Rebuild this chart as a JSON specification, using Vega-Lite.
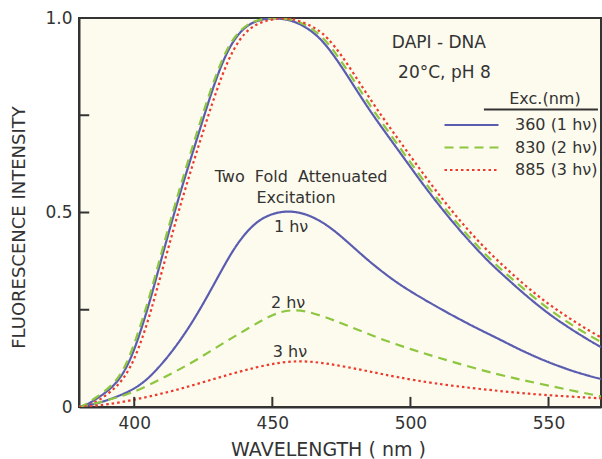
{
  "$schema": "https://vega.github.io/schema/vega-lite/v6.json",
  "width": 522,
  "height": 389,
  "autosize": {"type": "none"},
  "padding": {"left": 79, "top": 18, "right": 1, "bottom": 52},
  "background": "#ffffff",
  "config": {
    "font": "DejaVu Sans",
    "view": {"fill": "#fdfbee", "stroke": "#333333", "strokeWidth": 2},
    "axis": {
      "grid": false,
      "domainColor": "#333333",
      "domainWidth": 2,
      "ticks": false,
      "labelColor": "#333333",
      "labelFont": "DejaVu Sans",
      "titleColor": "#333333",
      "titleFont": "DejaVu Sans",
      "titleFontWeight": "normal"
    },
    "legend": {
      "orient": "none",
      "legendX": 364,
      "legendY": 97,
      "padding": 0,
      "symbolType": "stroke",
      "symbolSize": 2916,
      "symbolStrokeWidth": 2.2,
      "labelFont": "DejaVu Sans",
      "labelFontSize": 16,
      "labelColor": "#333333",
      "labelOffset": 15,
      "clipHeight": 20,
      "rowPadding": 2.5
    }
  },
  "datasets": {
    "curves": [
      {"w":380,"i":0,"e":"360 (1 hν)","s":"n"},{"w":382,"i":0.003,"e":"360 (1 hν)","s":"n"},{"w":385,"i":0.015,"e":"360 (1 hν)","s":"n"},{"w":390,"i":0.038,"e":"360 (1 hν)","s":"n"},{"w":394,"i":0.065,"e":"360 (1 hν)","s":"n"},{"w":397,"i":0.098,"e":"360 (1 hν)","s":"n"},{"w":400,"i":0.146,"e":"360 (1 hν)","s":"n"},{"w":403,"i":0.21,"e":"360 (1 hν)","s":"n"},{"w":406,"i":0.28,"e":"360 (1 hν)","s":"n"},{"w":410,"i":0.385,"e":"360 (1 hν)","s":"n"},{"w":414,"i":0.487,"e":"360 (1 hν)","s":"n"},{"w":418,"i":0.583,"e":"360 (1 hν)","s":"n"},{"w":422,"i":0.673,"e":"360 (1 hν)","s":"n"},{"w":426,"i":0.765,"e":"360 (1 hν)","s":"n"},{"w":430,"i":0.852,"e":"360 (1 hν)","s":"n"},{"w":434,"i":0.92,"e":"360 (1 hν)","s":"n"},{"w":438,"i":0.963,"e":"360 (1 hν)","s":"n"},{"w":442,"i":0.986,"e":"360 (1 hν)","s":"n"},{"w":446,"i":0.997,"e":"360 (1 hν)","s":"n"},{"w":451,"i":1.0,"e":"360 (1 hν)","s":"n"},{"w":456,"i":0.996,"e":"360 (1 hν)","s":"n"},{"w":461,"i":0.982,"e":"360 (1 hν)","s":"n"},{"w":466,"i":0.957,"e":"360 (1 hν)","s":"n"},{"w":470,"i":0.926,"e":"360 (1 hν)","s":"n"},{"w":475,"i":0.876,"e":"360 (1 hν)","s":"n"},{"w":480,"i":0.82,"e":"360 (1 hν)","s":"n"},{"w":485,"i":0.765,"e":"360 (1 hν)","s":"n"},{"w":490,"i":0.715,"e":"360 (1 hν)","s":"n"},{"w":495,"i":0.666,"e":"360 (1 hν)","s":"n"},{"w":500,"i":0.617,"e":"360 (1 hν)","s":"n"},{"w":505,"i":0.568,"e":"360 (1 hν)","s":"n"},{"w":510,"i":0.522,"e":"360 (1 hν)","s":"n"},{"w":515,"i":0.478,"e":"360 (1 hν)","s":"n"},{"w":520,"i":0.437,"e":"360 (1 hν)","s":"n"},{"w":525,"i":0.398,"e":"360 (1 hν)","s":"n"},{"w":530,"i":0.362,"e":"360 (1 hν)","s":"n"},{"w":535,"i":0.33,"e":"360 (1 hν)","s":"n"},{"w":540,"i":0.298,"e":"360 (1 hν)","s":"n"},{"w":545,"i":0.268,"e":"360 (1 hν)","s":"n"},{"w":550,"i":0.24,"e":"360 (1 hν)","s":"n"},{"w":555,"i":0.215,"e":"360 (1 hν)","s":"n"},{"w":560,"i":0.192,"e":"360 (1 hν)","s":"n"},{"w":565,"i":0.17,"e":"360 (1 hν)","s":"n"},{"w":570,"i":0.15,"e":"360 (1 hν)","s":"n"},

      {"w":380,"i":0,"e":"830 (2 hν)","s":"n"},{"w":382,"i":0.004,"e":"830 (2 hν)","s":"n"},{"w":385,"i":0.019,"e":"830 (2 hν)","s":"n"},{"w":390,"i":0.043,"e":"830 (2 hν)","s":"n"},{"w":394,"i":0.072,"e":"830 (2 hν)","s":"n"},{"w":397,"i":0.107,"e":"830 (2 hν)","s":"n"},{"w":400,"i":0.162,"e":"830 (2 hν)","s":"n"},{"w":403,"i":0.225,"e":"830 (2 hν)","s":"n"},{"w":406,"i":0.295,"e":"830 (2 hν)","s":"n"},{"w":410,"i":0.4,"e":"830 (2 hν)","s":"n"},{"w":414,"i":0.502,"e":"830 (2 hν)","s":"n"},{"w":418,"i":0.598,"e":"830 (2 hν)","s":"n"},{"w":422,"i":0.69,"e":"830 (2 hν)","s":"n"},{"w":426,"i":0.78,"e":"830 (2 hν)","s":"n"},{"w":430,"i":0.862,"e":"830 (2 hν)","s":"n"},{"w":434,"i":0.928,"e":"830 (2 hν)","s":"n"},{"w":438,"i":0.967,"e":"830 (2 hν)","s":"n"},{"w":442,"i":0.988,"e":"830 (2 hν)","s":"n"},{"w":446,"i":0.998,"e":"830 (2 hν)","s":"n"},{"w":451,"i":1.0,"e":"830 (2 hν)","s":"n"},{"w":456,"i":0.998,"e":"830 (2 hν)","s":"n"},{"w":461,"i":0.987,"e":"830 (2 hν)","s":"n"},{"w":466,"i":0.965,"e":"830 (2 hν)","s":"n"},{"w":470,"i":0.937,"e":"830 (2 hν)","s":"n"},{"w":475,"i":0.889,"e":"830 (2 hν)","s":"n"},{"w":480,"i":0.834,"e":"830 (2 hν)","s":"n"},{"w":485,"i":0.779,"e":"830 (2 hν)","s":"n"},{"w":490,"i":0.728,"e":"830 (2 hν)","s":"n"},{"w":495,"i":0.678,"e":"830 (2 hν)","s":"n"},{"w":500,"i":0.629,"e":"830 (2 hν)","s":"n"},{"w":505,"i":0.58,"e":"830 (2 hν)","s":"n"},{"w":510,"i":0.533,"e":"830 (2 hν)","s":"n"},{"w":515,"i":0.488,"e":"830 (2 hν)","s":"n"},{"w":520,"i":0.447,"e":"830 (2 hν)","s":"n"},{"w":525,"i":0.408,"e":"830 (2 hν)","s":"n"},{"w":530,"i":0.372,"e":"830 (2 hν)","s":"n"},{"w":535,"i":0.34,"e":"830 (2 hν)","s":"n"},{"w":540,"i":0.31,"e":"830 (2 hν)","s":"n"},{"w":545,"i":0.28,"e":"830 (2 hν)","s":"n"},{"w":550,"i":0.252,"e":"830 (2 hν)","s":"n"},{"w":555,"i":0.227,"e":"830 (2 hν)","s":"n"},{"w":560,"i":0.204,"e":"830 (2 hν)","s":"n"},{"w":565,"i":0.183,"e":"830 (2 hν)","s":"n"},{"w":570,"i":0.163,"e":"830 (2 hν)","s":"n"},

      {"w":380,"i":0,"e":"885 (3 hν)","s":"n"},{"w":382,"i":0.001,"e":"885 (3 hν)","s":"n"},{"w":385,"i":0.008,"e":"885 (3 hν)","s":"n"},{"w":390,"i":0.03,"e":"885 (3 hν)","s":"n"},{"w":394,"i":0.055,"e":"885 (3 hν)","s":"n"},{"w":397,"i":0.082,"e":"885 (3 hν)","s":"n"},{"w":400,"i":0.122,"e":"885 (3 hν)","s":"n"},{"w":403,"i":0.178,"e":"885 (3 hν)","s":"n"},{"w":406,"i":0.245,"e":"885 (3 hν)","s":"n"},{"w":410,"i":0.348,"e":"885 (3 hν)","s":"n"},{"w":414,"i":0.452,"e":"885 (3 hν)","s":"n"},{"w":418,"i":0.55,"e":"885 (3 hν)","s":"n"},{"w":422,"i":0.642,"e":"885 (3 hν)","s":"n"},{"w":426,"i":0.732,"e":"885 (3 hν)","s":"n"},{"w":430,"i":0.818,"e":"885 (3 hν)","s":"n"},{"w":434,"i":0.893,"e":"885 (3 hν)","s":"n"},{"w":438,"i":0.945,"e":"885 (3 hν)","s":"n"},{"w":442,"i":0.975,"e":"885 (3 hν)","s":"n"},{"w":446,"i":0.99,"e":"885 (3 hν)","s":"n"},{"w":451,"i":0.998,"e":"885 (3 hν)","s":"n"},{"w":456,"i":1.0,"e":"885 (3 hν)","s":"n"},{"w":461,"i":0.99,"e":"885 (3 hν)","s":"n"},{"w":466,"i":0.973,"e":"885 (3 hν)","s":"n"},{"w":470,"i":0.95,"e":"885 (3 hν)","s":"n"},{"w":475,"i":0.905,"e":"885 (3 hν)","s":"n"},{"w":480,"i":0.851,"e":"885 (3 hν)","s":"n"},{"w":485,"i":0.796,"e":"885 (3 hν)","s":"n"},{"w":490,"i":0.744,"e":"885 (3 hν)","s":"n"},{"w":495,"i":0.694,"e":"885 (3 hν)","s":"n"},{"w":500,"i":0.645,"e":"885 (3 hν)","s":"n"},{"w":505,"i":0.596,"e":"885 (3 hν)","s":"n"},{"w":510,"i":0.549,"e":"885 (3 hν)","s":"n"},{"w":515,"i":0.504,"e":"885 (3 hν)","s":"n"},{"w":520,"i":0.462,"e":"885 (3 hν)","s":"n"},{"w":525,"i":0.423,"e":"885 (3 hν)","s":"n"},{"w":530,"i":0.387,"e":"885 (3 hν)","s":"n"},{"w":535,"i":0.354,"e":"885 (3 hν)","s":"n"},{"w":540,"i":0.322,"e":"885 (3 hν)","s":"n"},{"w":545,"i":0.292,"e":"885 (3 hν)","s":"n"},{"w":550,"i":0.265,"e":"885 (3 hν)","s":"n"},{"w":555,"i":0.24,"e":"885 (3 hν)","s":"n"},{"w":560,"i":0.217,"e":"885 (3 hν)","s":"n"},{"w":565,"i":0.195,"e":"885 (3 hν)","s":"n"},{"w":570,"i":0.175,"e":"885 (3 hν)","s":"n"},

      {"w":380,"i":0,"e":"360 (1 hν)","s":"a"},{"w":383,"i":0.003,"e":"360 (1 hν)","s":"a"},{"w":388,"i":0.012,"e":"360 (1 hν)","s":"a"},{"w":394,"i":0.027,"e":"360 (1 hν)","s":"a"},{"w":400,"i":0.046,"e":"360 (1 hν)","s":"a"},{"w":405,"i":0.072,"e":"360 (1 hν)","s":"a"},{"w":411,"i":0.118,"e":"360 (1 hν)","s":"a"},{"w":417,"i":0.174,"e":"360 (1 hν)","s":"a"},{"w":423,"i":0.24,"e":"360 (1 hν)","s":"a"},{"w":430,"i":0.33,"e":"360 (1 hν)","s":"a"},{"w":436,"i":0.408,"e":"360 (1 hν)","s":"a"},{"w":442,"i":0.463,"e":"360 (1 hν)","s":"a"},{"w":448,"i":0.494,"e":"360 (1 hν)","s":"a"},{"w":455,"i":0.505,"e":"360 (1 hν)","s":"a"},{"w":461,"i":0.499,"e":"360 (1 hν)","s":"a"},{"w":466,"i":0.484,"e":"360 (1 hν)","s":"a"},{"w":471,"i":0.462,"e":"360 (1 hν)","s":"a"},{"w":477,"i":0.426,"e":"360 (1 hν)","s":"a"},{"w":483,"i":0.387,"e":"360 (1 hν)","s":"a"},{"w":489,"i":0.352,"e":"360 (1 hν)","s":"a"},{"w":495,"i":0.32,"e":"360 (1 hν)","s":"a"},{"w":501,"i":0.293,"e":"360 (1 hν)","s":"a"},{"w":507,"i":0.268,"e":"360 (1 hν)","s":"a"},{"w":513,"i":0.244,"e":"360 (1 hν)","s":"a"},{"w":519,"i":0.221,"e":"360 (1 hν)","s":"a"},{"w":525,"i":0.199,"e":"360 (1 hν)","s":"a"},{"w":532,"i":0.175,"e":"360 (1 hν)","s":"a"},{"w":538,"i":0.153,"e":"360 (1 hν)","s":"a"},{"w":544,"i":0.133,"e":"360 (1 hν)","s":"a"},{"w":550,"i":0.115,"e":"360 (1 hν)","s":"a"},{"w":556,"i":0.099,"e":"360 (1 hν)","s":"a"},{"w":562,"i":0.085,"e":"360 (1 hν)","s":"a"},{"w":570,"i":0.07,"e":"360 (1 hν)","s":"a"},

      {"w":380,"i":0,"e":"830 (2 hν)","s":"a"},{"w":383,"i":0.004,"e":"830 (2 hν)","s":"a"},{"w":388,"i":0.013,"e":"830 (2 hν)","s":"a"},{"w":394,"i":0.025,"e":"830 (2 hν)","s":"a"},{"w":399,"i":0.036,"e":"830 (2 hν)","s":"a"},{"w":405,"i":0.055,"e":"830 (2 hν)","s":"a"},{"w":411,"i":0.077,"e":"830 (2 hν)","s":"a"},{"w":417,"i":0.099,"e":"830 (2 hν)","s":"a"},{"w":423,"i":0.123,"e":"830 (2 hν)","s":"a"},{"w":429,"i":0.15,"e":"830 (2 hν)","s":"a"},{"w":435,"i":0.176,"e":"830 (2 hν)","s":"a"},{"w":441,"i":0.201,"e":"830 (2 hν)","s":"a"},{"w":447,"i":0.226,"e":"830 (2 hν)","s":"a"},{"w":452,"i":0.243,"e":"830 (2 hν)","s":"a"},{"w":457,"i":0.25,"e":"830 (2 hν)","s":"a"},{"w":462,"i":0.247,"e":"830 (2 hν)","s":"a"},{"w":468,"i":0.234,"e":"830 (2 hν)","s":"a"},{"w":473,"i":0.221,"e":"830 (2 hν)","s":"a"},{"w":478,"i":0.207,"e":"830 (2 hν)","s":"a"},{"w":484,"i":0.19,"e":"830 (2 hν)","s":"a"},{"w":490,"i":0.173,"e":"830 (2 hν)","s":"a"},{"w":497,"i":0.156,"e":"830 (2 hν)","s":"a"},{"w":503,"i":0.142,"e":"830 (2 hν)","s":"a"},{"w":510,"i":0.127,"e":"830 (2 hν)","s":"a"},{"w":520,"i":0.106,"e":"830 (2 hν)","s":"a"},{"w":531,"i":0.085,"e":"830 (2 hν)","s":"a"},{"w":540,"i":0.07,"e":"830 (2 hν)","s":"a"},{"w":550,"i":0.055,"e":"830 (2 hν)","s":"a"},{"w":560,"i":0.04,"e":"830 (2 hν)","s":"a"},{"w":570,"i":0.026,"e":"830 (2 hν)","s":"a"},

      {"w":380,"i":0,"e":"885 (3 hν)","s":"a"},{"w":384,"i":0.002,"e":"885 (3 hν)","s":"a"},{"w":390,"i":0.006,"e":"885 (3 hν)","s":"a"},{"w":399,"i":0.017,"e":"885 (3 hν)","s":"a"},{"w":408,"i":0.031,"e":"885 (3 hν)","s":"a"},{"w":417,"i":0.047,"e":"885 (3 hν)","s":"a"},{"w":426,"i":0.066,"e":"885 (3 hν)","s":"a"},{"w":435,"i":0.085,"e":"885 (3 hν)","s":"a"},{"w":444,"i":0.102,"e":"885 (3 hν)","s":"a"},{"w":452,"i":0.114,"e":"885 (3 hν)","s":"a"},{"w":460,"i":0.119,"e":"885 (3 hν)","s":"a"},{"w":468,"i":0.114,"e":"885 (3 hν)","s":"a"},{"w":477,"i":0.103,"e":"885 (3 hν)","s":"a"},{"w":486,"i":0.09,"e":"885 (3 hν)","s":"a"},{"w":495,"i":0.077,"e":"885 (3 hν)","s":"a"},{"w":508,"i":0.061,"e":"885 (3 hν)","s":"a"},{"w":525,"i":0.046,"e":"885 (3 hν)","s":"a"},{"w":544,"i":0.033,"e":"885 (3 hν)","s":"a"},{"w":557,"i":0.027,"e":"885 (3 hν)","s":"a"},{"w":570,"i":0.022,"e":"885 (3 hν)","s":"a"}
    ],
    "notes": [
      {"w":510.3,"i":0.922,"t":"DAPI - DNA","g":"big"},
      {"w":512.3,"i":0.845,"t":"20°C, pH 8","g":"big"},
      {"w":548.7,"i":0.778,"t":"Exc.(nm)","g":"small"},
      {"w":460.4,"i":0.578,"t":"Two \u00a0Fold \u00a0Attenuated","g":"small"},
      {"w":458.6,"i":0.524,"t":"Excitation","g":"small"},
      {"w":456.8,"i":0.449,"t":"1 hν","g":"small"},
      {"w":455.7,"i":0.254,"t":"2 hν","g":"small"},
      {"w":456.4,"i":0.128,"t":"3 hν","g":"small"}
    ],
    "rules": [
      {"a":526.6,"b":567.9,"i":0.765}
    ],
    "xticks": [{"w":400},{"w":450},{"w":500},{"w":550}],
    "yticks": [{"i":0.25},{"i":0.5},{"i":0.75}]
  },
  "layer": [
    {
      "data": {"name": "curves"},
      "mark": {"type": "line", "interpolate": "basis", "clip": true, "strokeWidth": 2.2, "strokeCap": "butt"},
      "encoding": {
        "x": {
          "field": "w", "type": "quantitative",
          "scale": {"domain": [380, 569], "nice": false, "zero": false},
          "axis": {
            "values": [400, 450, 500, 550],
            "title": "WAVELENGTH ( nm )",
            "labelFontSize": 17,
            "labelPadding": 8,
            "titleFontSize": 19,
            "titleX": 249,
            "titleY": 48,
            "titleBaseline": "alphabetic"
          }
        },
        "y": {
          "field": "i", "type": "quantitative",
          "scale": {"domain": [0, 1], "nice": false},
          "axis": {
            "values": [0, 0.5, 1],
            "labelExpr": "datum.value == 0 ? '0' : datum.value == 0.5 ? '0.5' : '1.0'",
            "labelFontSize": 17,
            "labelPadding": 7,
            "title": "FLUORESCENCE INTENSITY",
            "titleFontSize": 18,
            "titleAngle": 270,
            "titleAlign": "center",
            "titleBaseline": "middle",
            "titleX": -60,
            "titleY": 209
          }
        },
        "color": {
          "field": "e", "type": "nominal",
          "scale": {"domain": ["360 (1 hν)", "830 (2 hν)", "885 (3 hν)"], "range": ["#5a5cb0", "#8dc63f", "#ec3b2e"]},
          "legend": {"title": null}
        },
        "strokeDash": {
          "field": "e", "type": "nominal",
          "scale": {"domain": ["360 (1 hν)", "830 (2 hν)", "885 (3 hν)"], "range": [[1, 0], [9, 6], [2.5, 3]]},
          "legend": {"title": null}
        },
        "detail": {"field": "s", "type": "nominal"}
      }
    },
    {
      "data": {"name": "xticks"},
      "mark": {"type": "rule", "color": "#333333", "strokeWidth": 2},
      "encoding": {
        "x": {"field": "w", "type": "quantitative"},
        "y": {"datum": 0},
        "y2": {"datum": 0.026}
      }
    },
    {
      "data": {"name": "yticks"},
      "mark": {"type": "rule", "color": "#333333", "strokeWidth": 2},
      "encoding": {
        "y": {"field": "i", "type": "quantitative"},
        "x": {"datum": 380},
        "x2": {"datum": 383.7}
      }
    },
    {
      "data": {"name": "rules"},
      "mark": {"type": "rule", "color": "#333333", "strokeWidth": 2},
      "encoding": {
        "x": {"field": "a", "type": "quantitative"},
        "x2": {"field": "b"},
        "y": {"field": "i", "type": "quantitative"}
      }
    },
    {
      "data": {"name": "notes"},
      "transform": [{"filter": "datum.g == 'big'"}],
      "mark": {"type": "text", "align": "center", "baseline": "alphabetic", "fontSize": 17, "font": "DejaVu Sans", "color": "#333333"},
      "encoding": {
        "x": {"field": "w", "type": "quantitative"},
        "y": {"field": "i", "type": "quantitative"},
        "text": {"field": "t"}
      }
    },
    {
      "data": {"name": "notes"},
      "transform": [{"filter": "datum.g == 'small'"}],
      "mark": {"type": "text", "align": "center", "baseline": "alphabetic", "fontSize": 16, "font": "DejaVu Sans", "color": "#333333"},
      "encoding": {
        "x": {"field": "w", "type": "quantitative"},
        "y": {"field": "i", "type": "quantitative"},
        "text": {"field": "t"}
      }
    }
  ]
}
